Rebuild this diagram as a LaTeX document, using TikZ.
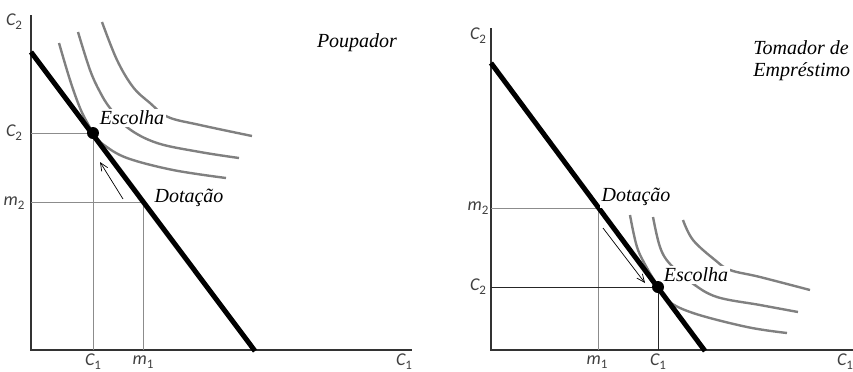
\documentclass[tikz,border=0pt]{standalone}
\usepackage{fontspec}
\setmainfont{Liberation Serif}
\newfontfamily\eixofont{Carlito}
\usetikzlibrary{arrows.meta,positioning,calc}
\newcommand{\eixolab}[2]{{\eixofont\itshape #1}\raisebox{-0.5ex}{\eixofont\fontsize{6.5}{7}\selectfont #2}}

\begin{document}
\begin{tikzpicture}[x=0.5pt, y=-0.5pt,
  eixo/.style={draw=black!80, line width=1pt},
  restr/.style={draw=black, line width=2.5pt},
  indif/.style={draw=black!50, line width=1.2pt},
  guia/.style={draw=black!45, line width=0.4pt},
  guiaesc/.style={draw=black!85, line width=0.5pt},
  ponto/.style={circle, fill=black, inner sep=0pt, minimum size=6pt},
  rot/.style={font=\fontsize{10}{12}\selectfont\itshape, fill=white, inner sep=1pt},
  tit/.style={font=\fontsize{10}{12}\selectfont\itshape, align=left},
  eixot/.style={font=\fontsize{9}{10}\selectfont, text=black!75, inner sep=0pt},
  seta/.style={-{Straight Barb[length=4pt,width=3.5pt]}, line width=0.35pt}]
\useasboundingbox (0,0) rectangle (853,371);

% Poupador
\coordinate (O1) at (31,350); \coordinate (Y1) at (31,15); \coordinate (X1) at (412,350);
\coordinate (b1a) at (31,52); \coordinate (b1b) at (255,351);
\coordinate (esc1) at (93,133); \coordinate (dot1) at (143,202);
\draw[eixo] (Y1) -- (O1) -- (X1);
\draw[guia] (esc1) -- (esc1 -| O1); \draw[guia] (esc1) -- (esc1 |- O1);
\draw[guia] (dot1) -- (dot1 -| O1); \draw[guia] (dot1) -- (dot1 |- O1);
\draw[indif] plot[smooth, tension=0.6] coordinates {(59,43) (70,80) (80,108) (88,124) (95,136) (104,145) (127,158) (173,170) (226,178)};
\draw[indif] plot[smooth, tension=0.6] coordinates {(78,32) (90,70) (100,92) (110,108) (128,128) (157,143) (200,152) (239,158)};
\draw[indif] plot[smooth, tension=0.6] coordinates {(102,22) (117,60) (133,87) (150,103) (168,117) (200,125) (252,136)};
\draw[restr] (b1a) -- (b1b);
\coordinate (s1a) at (123,199); \coordinate (s1b) at (100,162);
\draw[seta] (s1a) -- (s1b);
\node[rot] (lesc1) at (132,118) {Escolha};
\node[rot] (ldot1) at (189,198) {Dotação};
\node[tit] (tpoup) at (357,43) {Poupador};
\node[ponto] (pesc1) at (esc1) {};
\node[eixot] (lc2a) at (14,22) {\eixolab{C}{2}};
\node[eixot] (lc2b) at (14,133) {\eixolab{C}{2}};
\node[eixot] (lm2a) at (14,203) {\eixolab{m}{2}};
\node[eixot] (lc1a) at (93,362) {\eixolab{C}{1}};
\node[eixot] (lm1a) at (143,362) {\eixolab{m}{1}};
\node[eixot] (lc1b) at (404,362) {\eixolab{C}{1}};

% Tomador de Emprestimo
\coordinate (O2) at (491,350); \coordinate (Y2) at (491,28); \coordinate (X2) at (853,350);
\coordinate (b2a) at (491,63); \coordinate (b2b) at (705,351);
\coordinate (esc2) at (658,287); \coordinate (dot2) at (598,208);
\draw[eixo] (Y2) -- (O2) -- (X2);
\draw[guia] (dot2) -- (dot2 -| O2); \draw[guia] (dot2) -- (dot2 |- O2);
\draw[guiaesc] (esc2) -- (esc2 -| O2); \draw[guiaesc] (esc2) -- (esc2 |- O2);
\draw[indif] plot[smooth, tension=0.6] coordinates {(630,215) (637,247) (647,268) (656,283) (667,300) (693,313) (747,327) (787,333)};
\draw[indif] plot[smooth, tension=0.6] coordinates {(653,217) (660,247) (670,264) (692,283) (717,297) (760,305) (798,312)};
\draw[indif] plot[smooth, tension=0.6] coordinates {(683,220) (693,240) (715,260) (730,270) (760,277) (810,290)};
\draw[restr] (b2a) -- (b2b);
\coordinate (s2a) at (603,228); \coordinate (s2b) at (645,283);
\draw[seta] (s2a) -- (s2b);
\node[rot] (lesc2) at (696,275) {Escolha};
\node[rot] (ldot2) at (636,197) {Dotação};
\node[tit, anchor=north west, inner sep=0pt] (ttom) at (753,40) {Tomador de\\[-1pt]Empréstimo};
\node[ponto] (pesc2) at (esc2) {};
\node[eixot] (lc2c) at (478,36) {\eixolab{C}{2}};
\node[eixot] (lm2b) at (478,208) {\eixolab{m}{2}};
\node[eixot] (lc2d) at (478,287) {\eixolab{C}{2}};
\node[eixot] (lm1b) at (597,362) {\eixolab{m}{1}};
\node[eixot] (lc1c) at (658,362) {\eixolab{C}{1}};
\node[eixot] (lc1d) at (845,362) {\eixolab{C}{1}};
\end{tikzpicture}
\end{document}
